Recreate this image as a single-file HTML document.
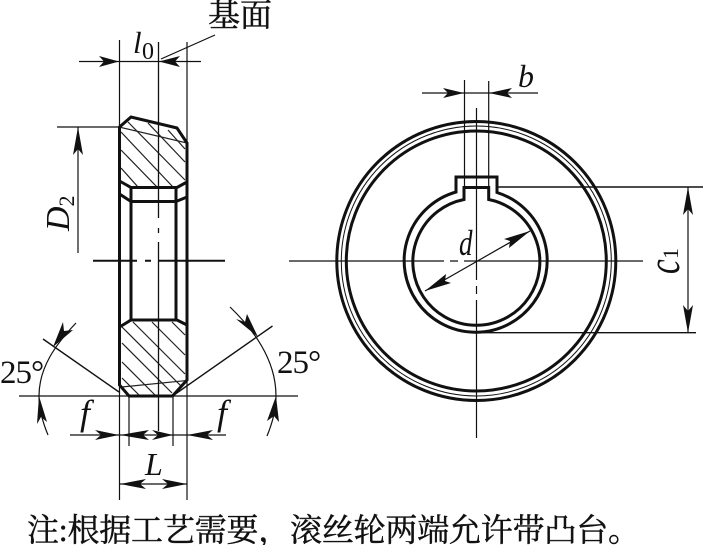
<!DOCTYPE html>
<html><head><meta charset="utf-8"><style>
html,body{margin:0;padding:0;background:#fff}
svg{display:block}
text{fill:#111}
.s{font-family:"Liberation Serif","Noto Serif CJK SC",serif}
.i{font-style:italic}
.b{stroke:#111;stroke-width:.45px}
</style></head><body>
<svg width="703" height="545" viewBox="0 0 703 545" xmlns="http://www.w3.org/2000/svg">
<defs>
<clipPath id="c1"><polygon points="119.5,127 131,117 177,128 187,143 187,182 177,187 131,187 119.5,181"/></clipPath>
</defs>
<!-- hatching -->
<g stroke="#222" stroke-width="1.2" fill="none">
<g clip-path="url(#c1)">
<path d="M121,168L138,187M121,150L157,187M121,132L173,187M128,122L185,180M148,123L185,162M168,130L185,149"/>
<path d="M119,127L187,143"/>
</g>
<path d="M133,322L185,374M152,322L185,355M172,322L185,335M122,327L182,387M122,343L172,393M122,362L155,395M122,378L139,395"/>
<path d="M121.7,387L185,380.7"/>
</g>
<!-- left view thick outline -->
<g stroke="#111" stroke-width="3" fill="none" stroke-linejoin="miter">
<path d="M119.5,127L131,117L177,128L187,143V380L172.5,396H129L119.5,385V127Z"/>
<path d="M119.5,181L131,187.5H177L187,182"/>
<path d="M119.5,194L131,201.5H176L187,197"/>
<path d="M131,187.5V320M176,187.5V320"/>
<path d="M119.5,327L131,320H177L187,325"/>
<path d="M93,260.7H137M145,260.7H151M158,260.7H225" stroke-width="2"/>
</g>
<!-- left thin lines -->
<g stroke="#111" stroke-width="1.2" fill="none">
<path d="M119.5,40V127M119.5,385V500M187,42V143M187,380V500"/>
<path d="M158.5,42V218M158.5,228V233M158.5,242V431" stroke-width="1.3"/>
<path d="M129,396V446M173,396V446"/>
<path d="M79,61.5H201M161,59L215,35"/>
<path d="M57,127H119.5M78,127V253"/>
<path d="M19,396H298"/>
<path d="M43,339L119,392M172.5,396L272.5,326" stroke-width="1.4"/>
<path d="M76,323C55,345 39,368 39,396C39,410 43,423 48,435"/>
<path d="M230,307C254,330 276,360 276,396C276,411 272,424 267,436"/>
<path d="M70,435H226M119.5,484H187"/>
</g>
<!-- left arrowheads -->
<g fill="#111" stroke="none">
<path d="M119,61.5L99,56L104,61.5L99,67Z"/>
<path d="M159,61.5L180,56L175,61.5L180,67Z"/>
<path d="M78,127L73,155L78,149L83,155Z"/>
<path d="M119,435L95,430L101,435L95,440Z"/>
<path d="M120,435L149,430L143,435L149,440Z"/>
<path d="M173,435L152,430L158,435L152,440Z"/>
<path d="M187,435L213,430L207,435L213,440Z"/>
<path d="M120,484L146,479L140,484L146,489Z"/>
<path d="M187,484L162,479L168,484L162,489Z"/>
<path d="M53,347L63,322L64,331L73,330Z"/>
<path d="M39,396L47,422L41,417L37,424Z"/>
<path d="M258,337L236,319L245,322L247,314Z"/>
<path d="M276,396L279,422L274,416L267,421Z"/>
</g>
<!-- right view circles -->
<g fill="none" stroke="#111">
<circle cx="476.3" cy="261" r="139.5" stroke-width="3"/>
<circle cx="476.3" cy="261" r="135" stroke-width="1"/>
<circle cx="476.3" cy="261" r="130" stroke-width="3"/>
<path d="M456,192A71.5,71.5 0 1 0 497,192.5V177H456Z" stroke-width="3"/>
<path d="M464,199.5A63.5,63.5 0 1 0 488.7,199.5V187.5H464Z" stroke-width="3"/>
</g>
<!-- right thin lines -->
<g stroke="#111" stroke-width="1.2" fill="none">
<path d="M464.5,80V187M488.7,81V187"/>
<path d="M476.5,108V280M476.5,286V294M476.5,300V438"/>
<path d="M289,261H444M450,261H458M464,261H643"/>
<path d="M422,93H538"/>
<path d="M497,187H703M476,332.7H696" stroke-width="1.4"/>
<path d="M688,187V333"/>
<path d="M425,291L530,231"/>
</g>
<g fill="#111" stroke="none">
<path d="M464,93L443,88L448,93L443,98Z"/>
<path d="M489,93L512,88L507,93L512,98Z"/>
<path d="M688,187L683,215L688,209L693,215Z"/>
<path d="M688,333L683,305L688,311L693,305Z"/>
<path d="M530,231L504,239L510,241L509,248Z"/>
<path d="M425,291L451,283L445,281L446,274Z"/>
</g>
<!-- labels -->
<text class="s b" x="208" y="26" font-size="32" textLength="64" lengthAdjust="spacing">基面</text>
<text class="s i" x="133" y="53" font-size="31">l</text>
<text class="s" x="142" y="59" font-size="24">0</text>
<text class="s i" x="518" y="87" font-size="32">b</text>
<text class="s i" transform="translate(459,255) scale(.75,1)" font-size="36">d</text>
<text class="s i" transform="translate(69,231) rotate(-90)" font-size="34">D<tspan font-style="normal" font-size="22" dy="5">2</tspan></text>
<text class="s i" transform="translate(679,274) rotate(-90) scale(.72,1)" font-size="46">c</text>
<text class="s" transform="translate(678,259) rotate(-90)" font-size="22">1</text>
<text class="s" x="0" y="383" font-size="33" letter-spacing="-1">25°</text>
<text class="s" x="277" y="373" font-size="33" letter-spacing="-1">25°</text>
<text class="s i" x="80" y="425" font-size="36">f</text>
<text class="s i" x="217" y="425" font-size="36">f</text>
<text class="s i" x="145" y="475" font-size="32">L</text>
<text class="s b" x="27" y="541" font-size="32" textLength="613" lengthAdjust="spacing">注:根据工艺需要，滚丝轮两端允许带凸台。</text>
</svg>
</body></html>
